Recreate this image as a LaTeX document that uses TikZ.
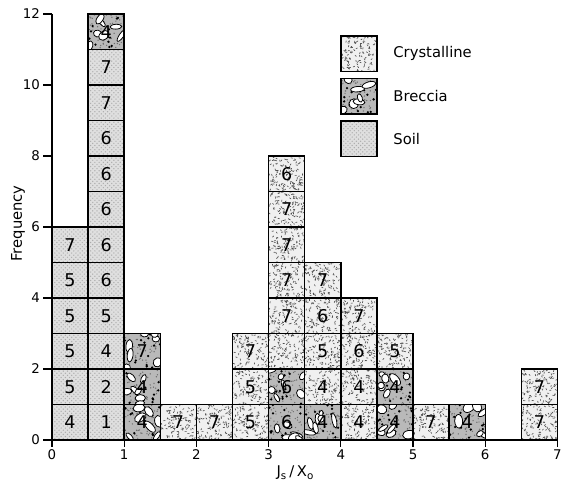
\documentclass[tikz,border=0pt]{standalone}
\usepackage{fontspec}
\setmainfont{DejaVu Sans}
\usetikzlibrary{patterns}

\tikzset{
  cellbox/.style={draw=black,line width=1pt},
  axis/.style={draw=black,line width=0.8pt},
  soil/.style={preaction={fill=gray!25},pattern=crosshatch dots,pattern color=gray!65},
  celllabel/.style={font=\fontsize{12.5}{14}\selectfont,inner sep=0.5pt},
  ticklabel/.style={font=\fontsize{9.5}{11}\selectfont,inner sep=1.5pt},
  axislabel/.style={font=\fontsize{10.5}{12}\selectfont},
}

% textures, (#1,#2) = lower left corner of a 0.5 x 1 cell
\newcommand{\texS}[2]{\path[soil] (#1,#2) rectangle ++(0.5,1);}
\newcommand{\texC}[2]{%
  \fill[gray!12] (#1,#2) rectangle ++(0.5,1);
  \begin{scope}
    \clip (#1,#2) rectangle ++(0.5,1);
    \foreach \m in {1,...,120}{
      \pgfmathsetmacro{\rx}{#1+0.5*rnd}
      \pgfmathsetmacro{\ry}{#2+rnd}
      \pgfmathsetmacro{\ra}{360*rnd}
      \draw[gray!60!black,line width=0.45pt,line cap=round] (\rx,\ry) -- ++(\ra:1.1pt);
    }
  \end{scope}}
\newcommand{\texB}[2]{%
  \fill[gray!55] (#1,#2) rectangle ++(0.5,1);
  \begin{scope}
    \clip (#1,#2) rectangle ++(0.5,1);
    \foreach \m in {1,...,60}{
      \pgfmathsetmacro{\rx}{#1+0.5*rnd}
      \pgfmathsetmacro{\ry}{#2+rnd}
      \fill[gray!85!black] (\rx,\ry) circle (0.5pt);
    }
    \foreach \m in {1,...,16}{
      \pgfmathsetmacro{\rx}{#1+0.5*rnd}
      \pgfmathsetmacro{\ry}{#2+rnd}
      \fill[black] (\rx,\ry) circle (0.9pt);
    }
    \foreach \m in {1,...,7}{
      \pgfmathsetmacro{\rx}{#1+0.5*rnd}
      \pgfmathsetmacro{\ry}{#2+rnd}
      \pgfmathsetmacro{\ra}{180*rnd}
      \pgfmathsetmacro{\rw}{2.2+3*rnd}
      \pgfmathsetmacro{\rh}{1.4+2*rnd}
      \begin{scope}[shift={(\rx,\ry)},rotate=\ra]
        \filldraw[fill=white,draw=black,line width=0.55pt] (0,0) ellipse (\rw pt and \rh pt);
      \end{scope}
    }
  \end{scope}}

\begin{document}
\begin{tikzpicture}[x=1.805cm,y=0.8875cm]
\pgfmathsetseed{7}
\useasboundingbox (-0.72,-1.268) rectangle (7.119,12.394);

% bars
\foreach \x/\stack [count=\ci] in {
  0/{S/4,S/5,S/5,S/5,S/5,S/7},
  0.5/{S/1,S/2,S/4,S/5,S/6,S/6,S/6,S/6,S/6,S/7,S/7,B/4},
  1/{B/4,B/4,B/7},
  1.5/{C/7},
  2/{C/7},
  2.5/{C/5,C/5,C/7},
  3/{B/6,B/6,C/{},C/7,C/7,C/7,C/7,C/6},
  3.5/{B/4,C/4,C/5,C/6,C/7},
  4/{C/4,C/4,C/6,C/7},
  4.5/{B/4,B/4,C/5},
  5/{C/7},
  5.5/{B/4},
  6.5/{C/7,C/7}}{
  \foreach \k/\n [count=\j from 0] in \stack {
    \csname tex\k\endcsname{\x}{\j}
    \draw[cellbox] (\x,\j) rectangle ++(0.5,1);
    \node[celllabel] (cell\ci-\j) at (\x+0.25,\j+0.5) {\n};
  }
}

% axes
\draw[axis] (0,12) -- (0,0) -- (7,0);
\foreach \v in {0,2,...,12}
  \draw[axis] (0,\v) -- ++(-0.13,0) node[left,ticklabel] (ytick\v) {\v};
\foreach \v in {0,...,7}
  \draw[axis] (\v,0) -- ++(0,-0.2) node[below,ticklabel] (xtick\v) {\v};
\node[axislabel,rotate=90] (ylabel) at (-0.47,6.1) {Frequency};
\node[axislabel] (xlabel) at (3.37,-0.93) {J\textsubscript{s}\,/\,X\textsubscript{o}};

% legend
\foreach \k/\name [count=\li] in {C/Crystalline,B/Breccia,S/Soil}{
  \pgfmathsetmacro{\ly}{11.58-1.2*\li}
  \csname tex\k\endcsname{4}{\ly}
  \draw[cellbox] (4,\ly) rectangle ++(0.5,1);
  \node[axislabel,anchor=west] (legend\li) at (4.66,\ly+0.5) {\name};
}
\end{tikzpicture}
\end{document}
